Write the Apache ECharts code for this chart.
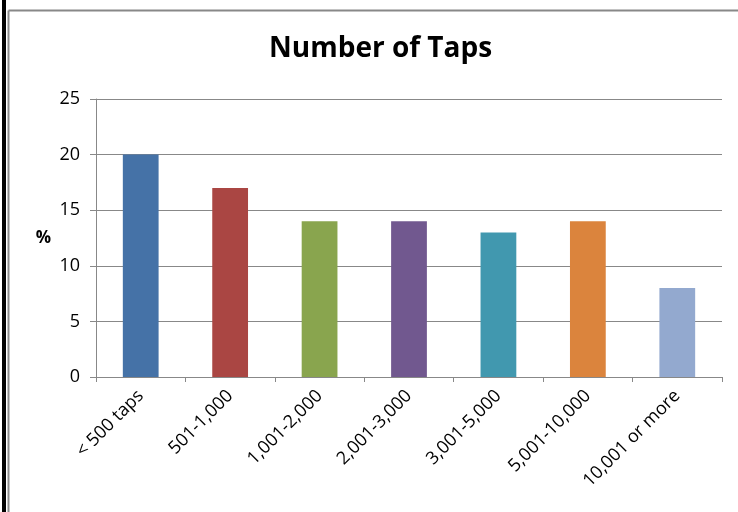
<!DOCTYPE html>
<html><head><meta charset="utf-8">
<script src="https://cdn.jsdelivr.net/npm/echarts@6/dist/echarts.min.js"></script>
<style>html,body{margin:0;padding:0;background:#fff}#c{width:738px;height:512px}</style>
</head><body><div id="c"></div>
<script>
const categories = ['< 500 taps','501-1,000','1,001-2,000','2,001-3,000','3,001-5,000','5,001-10,000','10,001 or more'];
const values = [20, 17, 14, 14, 13, 14, 8];
const colors = ['#4572A7','#AA4643','#89A54E','#71588F','#4198AF','#DB843D','#93A9CF'];
const yTicks = [0, 5, 10, 15, 20, 25];
const font = '"Open Sans", sans-serif';
const chart = echarts.init(document.getElementById('c'));
chart.setOption({
  animation: false,
  backgroundColor: '#fff',
  title: { text: 'Number of Taps', left: 264, top: 30,
    textStyle: { fontFamily: font, fontSize: 28, fontWeight: 'bold', color: '#000' } },
  grid: { left: 96, right: 16, top: 99, bottom: 135 },
  xAxis: { type: 'category', data: categories,
    axisLine: { lineStyle: { color: '#888', width: 1 } },
    axisTick: { show: true, alignWithLabel: false, length: 5, lineStyle: { color: '#888' } },
    axisLabel: { rotate: 45, interval: 0, margin: 16, fontFamily: font, fontSize: 18, color: '#000' } },
  yAxis: { type: 'value', min: yTicks[0], max: yTicks[yTicks.length-1], interval: 5,
    name: '%', nameLocation: 'middle', nameRotate: 0, nameGap: 45,
    nameTextStyle: { fontFamily: font, fontSize: 17, fontWeight: 'bold', color: '#000' },
    axisLine: { show: true, lineStyle: { color: '#888' } },
    axisTick: { show: true, length: 6, lineStyle: { color: '#888' } },
    splitLine: { lineStyle: { color: '#888', width: 1 } },
    axisLabel: { margin: 16, fontFamily: font, fontSize: 18, color: '#000' } },
  series: [{ type: 'bar', barWidth: '40%',
    data: values.map((v, i) => ({ value: v, itemStyle: { color: colors[i] } })) }],
  graphic: [
    { type: 'rect', shape: { x: 2, y: 0, width: 4, height: 512 }, style: { fill: '#000' } },
    { type: 'line', shape: { x1: 8.5, y1: 10.5, x2: 738, y2: 10.5 }, style: { stroke: '#888', lineWidth: 2 } },
    { type: 'line', shape: { x1: 8.5, y1: 10.5, x2: 8.5, y2: 512 }, style: { stroke: '#888', lineWidth: 2 } }
  ]
});
</script></body></html>
